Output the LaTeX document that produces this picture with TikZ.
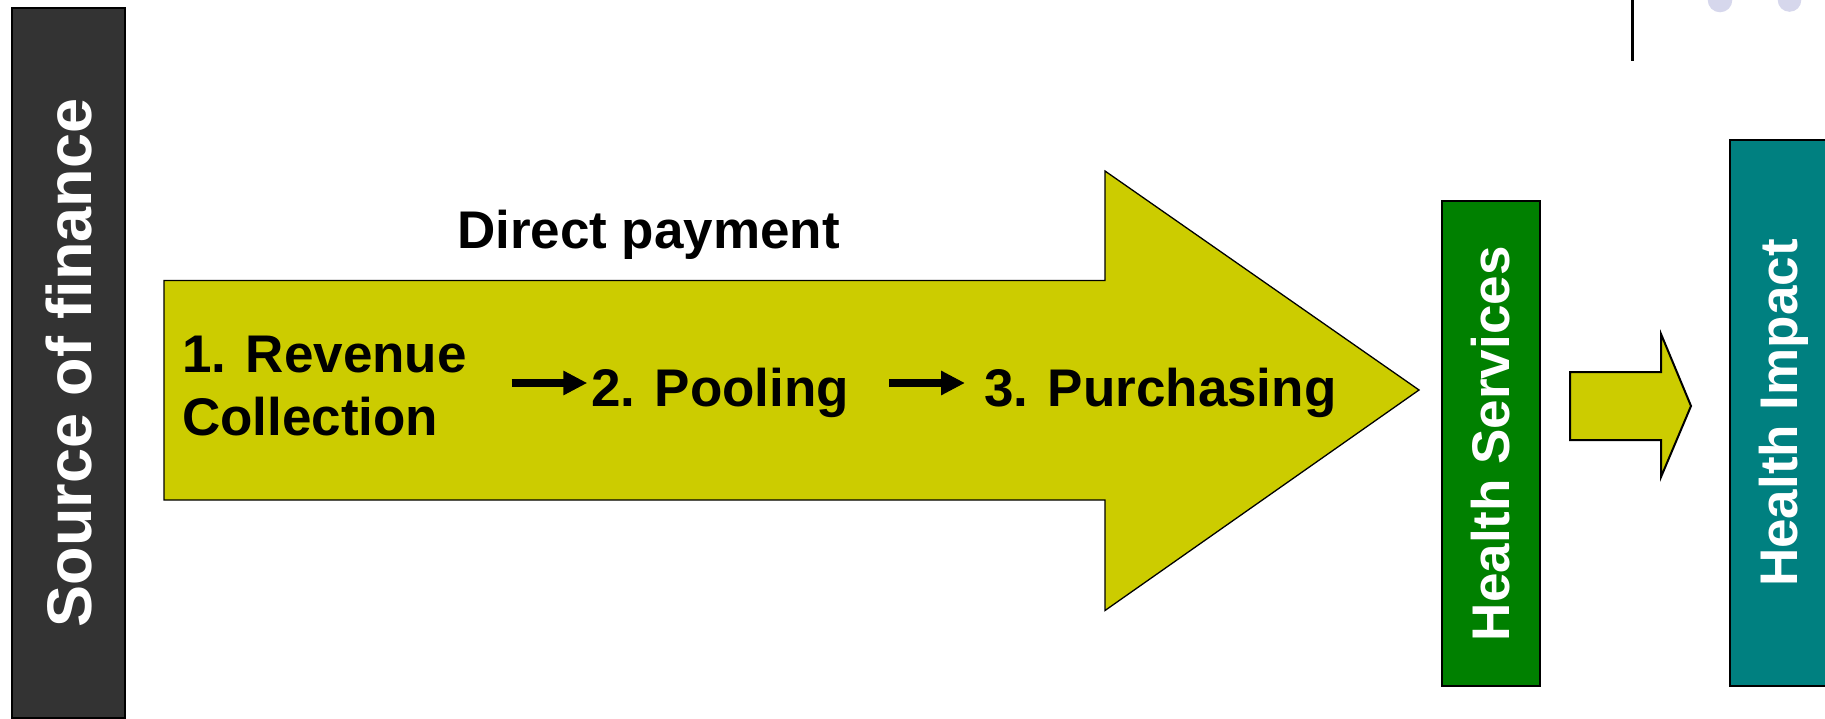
\documentclass[tikz,border=0pt]{standalone}
\usepackage{fontspec}
\setmainfont{Liberation Sans}
\usetikzlibrary{arrows.meta}
\definecolor{flowfill}{HTML}{CCCC00}
\definecolor{servicegreen}{HTML}{008000}
\definecolor{impactteal}{HTML}{008080}
\definecolor{sourcegray}{HTML}{333333}
\definecolor{dotlilac}{HTML}{D6D7EC}
\tikzset{
  sidebox/.style={draw=black, line width=2pt, inner sep=0pt, outer sep=0pt,
    rotate=90, text=white, text depth=0pt,
    font=\fontsize{53}{60}\selectfont\bfseries},
  steplabel/.style={inner sep=0pt, outer sep=0pt, anchor=base west,
    font=\fontsize{53}{62.7}\selectfont\bfseries},
  bigarrow/.style={fill=flowfill, draw=black, line width=1.3pt, line join=miter},
  smallarrow/.style={fill=flowfill, draw=black, line width=2pt, line join=miter},
  steparrow/.style={line width=8pt, -{Triangle[length=24pt, width=23pt]}}
}
\begin{document}
\begin{tikzpicture}[x=1pt, y=-1pt]
\useasboundingbox (0,0) rectangle (1825,719);

% decorations at the top right
\draw[line width=3pt] (1632,0) -- (1632,61);
\fill[dotlilac] (1720,0) circle (12.3pt);
\fill[dotlilac] (1789.5,0) circle (11.8pt);

% source of finance column
\node[sidebox, fill=sourcegray, line width=1.2pt, minimum width=710, minimum height=113,
  font=\fontsize{63}{70}\selectfont\bfseries] (source) at (68.5,363) {Source of finance};

% main flow arrow
\draw[bigarrow] (164,280.5) -- (1105,280.5) -- (1105,171) -- (1419,390)
  -- (1105,610.5) -- (1105,500) -- (164,500) -- cycle;

\node[steplabel] (direct) at (457,248.3) {Direct payment};
% the base of a two-line label sits on its last line
\node[steplabel, align=left] (revenue) at (182,435) {1. Revenue\\Collection};
\node[steplabel] (pooling) at (591,406.7) {2. Pooling};
\node[steplabel] (purchasing) at (984,406.7) {3. Purchasing};

\draw[steparrow] ([shift={(-79.3pt,23.7pt)}]pooling.base west)
  -- ([shift={(-3.7pt,23.7pt)}]pooling.base west);
\draw[steparrow] ([shift={(-95pt,23.7pt)}]purchasing.base west)
  -- ([shift={(-19pt,23.7pt)}]purchasing.base west);

% outcomes
\node[sidebox, fill=servicegreen, minimum width=484.5, minimum height=98.5]
  (services) at (1490.75,443.75) {Health Services};
\draw[smallarrow] (1570,372) -- (1661,372) -- (1661,334) -- (1691,406)
  -- (1661,477) -- (1661,440) -- (1570,440) -- cycle;
\node[sidebox, fill=impactteal, minimum width=546, minimum height=97]
  (impact) at (1778,413) {Health Impact};
\end{tikzpicture}
\end{document}
